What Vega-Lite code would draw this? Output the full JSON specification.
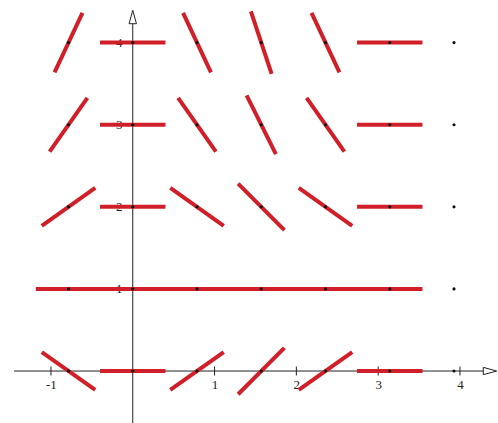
{
  "$schema": "https://vega.github.io/schema/vega-lite/v6.json",
  "width": 498,
  "height": 423,
  "autosize": {"type": "none"},
  "padding": 0,
  "background": "white",
  "config": {"view": {"stroke": null}},
  "datasets": {
    "segments": [
      {"x1": -1.1120, "y1": 0.2309, "x2": -0.4588, "y2": -0.2309},
      {"x1": -0.4, "y1": 0, "x2": 0.4, "y2": 0},
      {"x1": 0.4588, "y1": -0.2309, "x2": 1.1120, "y2": 0.2309},
      {"x1": 1.2880, "y1": -0.2828, "x2": 1.8536, "y2": 0.2828},
      {"x1": 2.0296, "y1": -0.2309, "x2": 2.6828, "y2": 0.2309},
      {"x1": 2.7416, "y1": 0, "x2": 3.5416, "y2": 0},

      {"x1": -1.1854, "y1": 1, "x2": -0.3854, "y2": 1},
      {"x1": -0.4, "y1": 1, "x2": 0.4, "y2": 1},
      {"x1": 0.3854, "y1": 1, "x2": 1.1854, "y2": 1},
      {"x1": 1.1708, "y1": 1, "x2": 1.9708, "y2": 1},
      {"x1": 1.9562, "y1": 1, "x2": 2.7562, "y2": 1},
      {"x1": 2.7416, "y1": 1, "x2": 3.5416, "y2": 1},

      {"x1": -1.1120, "y1": 1.7691, "x2": -0.4588, "y2": 2.2309},
      {"x1": -0.4, "y1": 2, "x2": 0.4, "y2": 2},
      {"x1": 0.4588, "y1": 2.2309, "x2": 1.1120, "y2": 1.7691},
      {"x1": 1.2880, "y1": 2.2828, "x2": 1.8536, "y2": 1.7172},
      {"x1": 2.0296, "y1": 2.2309, "x2": 2.6828, "y2": 1.7691},
      {"x1": 2.7416, "y1": 2, "x2": 3.5416, "y2": 2},

      {"x1": -1.0163, "y1": 2.6734, "x2": -0.5545, "y2": 3.3266},
      {"x1": -0.4, "y1": 3, "x2": 0.4, "y2": 3},
      {"x1": 0.5545, "y1": 3.3266, "x2": 1.0163, "y2": 2.6734},
      {"x1": 1.3919, "y1": 3.3578, "x2": 1.7497, "y2": 2.6422},
      {"x1": 2.1253, "y1": 3.3266, "x2": 2.5871, "y2": 2.6734},
      {"x1": 2.7416, "y1": 3, "x2": 3.5416, "y2": 3},

      {"x1": -0.9560, "y1": 3.6382, "x2": -0.6148, "y2": 4.3618},
      {"x1": -0.4, "y1": 4, "x2": 0.4, "y2": 4},
      {"x1": 0.6148, "y1": 4.3618, "x2": 0.9560, "y2": 3.6382},
      {"x1": 1.4443, "y1": 4.3795, "x2": 1.6973, "y2": 3.6205},
      {"x1": 2.1856, "y1": 4.3618, "x2": 2.5268, "y2": 3.6382},
      {"x1": 2.7416, "y1": 4, "x2": 3.5416, "y2": 4}
    ],
    "centers": [
      {"x": -0.7854, "y": 0}, {"x": 0, "y": 0}, {"x": 0.7854, "y": 0}, {"x": 1.5708, "y": 0}, {"x": 2.3562, "y": 0}, {"x": 3.1416, "y": 0}, {"x": 3.9270, "y": 0},
      {"x": -0.7854, "y": 1}, {"x": 0, "y": 1}, {"x": 0.7854, "y": 1}, {"x": 1.5708, "y": 1}, {"x": 2.3562, "y": 1}, {"x": 3.1416, "y": 1}, {"x": 3.9270, "y": 1},
      {"x": -0.7854, "y": 2}, {"x": 0, "y": 2}, {"x": 0.7854, "y": 2}, {"x": 1.5708, "y": 2}, {"x": 2.3562, "y": 2}, {"x": 3.1416, "y": 2}, {"x": 3.9270, "y": 2},
      {"x": -0.7854, "y": 3}, {"x": 0, "y": 3}, {"x": 0.7854, "y": 3}, {"x": 1.5708, "y": 3}, {"x": 2.3562, "y": 3}, {"x": 3.1416, "y": 3}, {"x": 3.9270, "y": 3},
      {"x": -0.7854, "y": 4}, {"x": 0, "y": 4}, {"x": 0.7854, "y": 4}, {"x": 1.5708, "y": 4}, {"x": 2.3562, "y": 4}, {"x": 3.1416, "y": 4}, {"x": 3.9270, "y": 4}
    ],
    "axislines": [
      {"x1": -1.452, "y1": 0, "x2": 4.30, "y2": 0},
      {"x1": 0, "y1": -0.633, "x2": 0, "y2": 4.23}
    ],
    "xticks": [{"v": -1}, {"v": 1}, {"v": 2}, {"v": 3}, {"v": 4}],
    "arrows": [
      {"x": 4.367, "y": 0, "dir": "right"},
      {"x": 0, "y": 4.312, "dir": "up"}
    ]
  },
  "layer": [
    {
      "data": {"name": "axislines"},
      "mark": {"type": "rule", "color": "#222222", "strokeWidth": 1},
      "encoding": {
        "x": {
          "field": "x1", "type": "quantitative",
          "scale": {"domain": [-1.623, 4.465], "nice": false, "zero": false},
          "axis": {
            "orient": "bottom", "offset": -52, "title": null, "grid": false, "domain": false, "ticks": false,
            "values": [-1, 1, 2, 3, 4], "labelExpr": "'' + datum.value",
            "labelFont": "Liberation Serif", "labelFontSize": 13, "labelColor": "#222222",
            "labelPadding": 7
          }
        },
        "y": {
          "field": "y1", "type": "quantitative",
          "scale": {"domain": [-0.633, 4.519], "nice": false, "zero": false},
          "axis": {
            "orient": "left", "offset": -133, "title": null, "grid": false, "domain": false,
            "values": [1, 2, 3, 4], "labelExpr": "'' + datum.value",
            "tickColor": "#222222", "tickSize": 4,
            "labelFont": "Liberation Serif", "labelFontSize": 13, "labelColor": "#222222",
            "labelPadding": 7
          }
        },
        "x2": {"field": "x2"},
        "y2": {"field": "y2"}
      }
    },
    {
      "data": {"name": "xticks"},
      "mark": {"type": "tick", "orient": "vertical", "color": "#222222", "size": 9, "thickness": 1, "opacity": 1},
      "encoding": {
        "x": {"field": "v", "type": "quantitative"},
        "y": {"datum": 0, "type": "quantitative"}
      }
    },
    {
      "data": {"name": "segments"},
      "mark": {"type": "rule", "color": "#d01f28", "strokeWidth": 4, "strokeCap": "butt"},
      "encoding": {
        "x": {"field": "x1", "type": "quantitative"},
        "y": {"field": "y1", "type": "quantitative"},
        "x2": {"field": "x2"},
        "y2": {"field": "y2"}
      }
    },
    {
      "data": {"name": "centers"},
      "mark": {"type": "point", "filled": true, "color": "#111111", "size": 10, "opacity": 1},
      "encoding": {
        "x": {"field": "x", "type": "quantitative"},
        "y": {"field": "y", "type": "quantitative"}
      }
    },
    {
      "data": {"name": "arrows"},
      "transform": [{"filter": "datum.dir == 'right'"}],
      "mark": {"type": "point", "shape": "M-1,-0.55L1,0L-1,0.55Z", "size": 180, "filled": true, "fill": "white", "stroke": "#222222", "strokeWidth": 1, "opacity": 1},
      "encoding": {
        "x": {"field": "x", "type": "quantitative"},
        "y": {"field": "y", "type": "quantitative"}
      }
    },
    {
      "data": {"name": "arrows"},
      "transform": [{"filter": "datum.dir == 'up'"}],
      "mark": {"type": "point", "shape": "M0,-1L0.55,1L-0.55,1Z", "size": 180, "filled": true, "fill": "white", "stroke": "#222222", "strokeWidth": 1, "opacity": 1},
      "encoding": {
        "x": {"field": "x", "type": "quantitative"},
        "y": {"field": "y", "type": "quantitative"}
      }
    }
  ]
}
